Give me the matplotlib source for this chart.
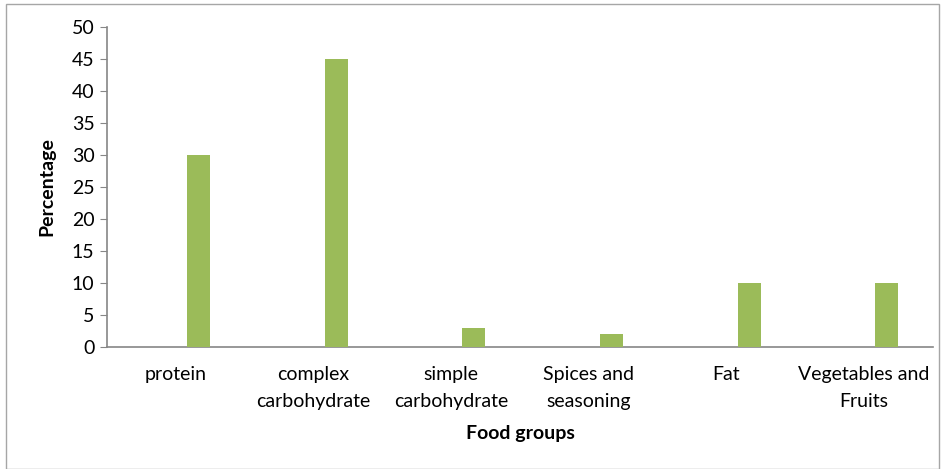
import matplotlib
matplotlib.use("Agg")
import matplotlib.pyplot as plt
from matplotlib.patches import Rectangle
import numpy as np

categories = ["protein", "complex\ncarbohydrate", "simple\ncarbohydrate",
              "Spices and\nseasoning", "Fat", "Vegetables and\nFruits"]
values = [30, 45, 3, 2, 10, 10]
yticks = [0, 5, 10, 15, 20, 25, 30, 35, 40, 45, 50]

plt.rcParams['font.family'] = ['Lato', 'DejaVu Sans']

W, H = 945, 469
fig = plt.figure(figsize=(W/100, H/100), dpi=100)
ax = fig.add_axes([107/W, 1-347/H, (933-107)/W, (347-27)/H])

x = np.arange(len(categories))
ax.bar(x + 0.165, values, width=0.167, color="#9BBB59", zorder=3)

ax.set_xlim(-0.5, len(categories) - 0.5)
ax.set_ylim(0, 50)
ax.set_yticks(yticks)
ax.set_xticks(x)
ax.set_xticklabels(categories, fontsize=14, linespacing=1.65)
ax.tick_params(axis='y', labelsize=14, length=5, color="#868686", pad=4)
ax.tick_params(axis='x', length=0, pad=14)

for s in ["top", "right"]:
    ax.spines[s].set_visible(False)
for s in ["left", "bottom"]:
    ax.spines[s].set_color("#868686")
    ax.spines[s].set_linewidth(1.2)

fig.text(47/W, 1-187/H, "Percentage", rotation=90, ha="center", va="center",
         fontsize=14, fontweight="bold")
fig.text(520/W, 1-433/H, "Food groups", ha="center", va="center",
         fontsize=14, fontweight="bold")

fig.patches.append(Rectangle((6/W, 0/H), (W-12)/W, (H-4)/H, transform=fig.transFigure,
                             fill=False, edgecolor="#A6A6A6", linewidth=1))

fig.savefig("out.png", dpi=100)
